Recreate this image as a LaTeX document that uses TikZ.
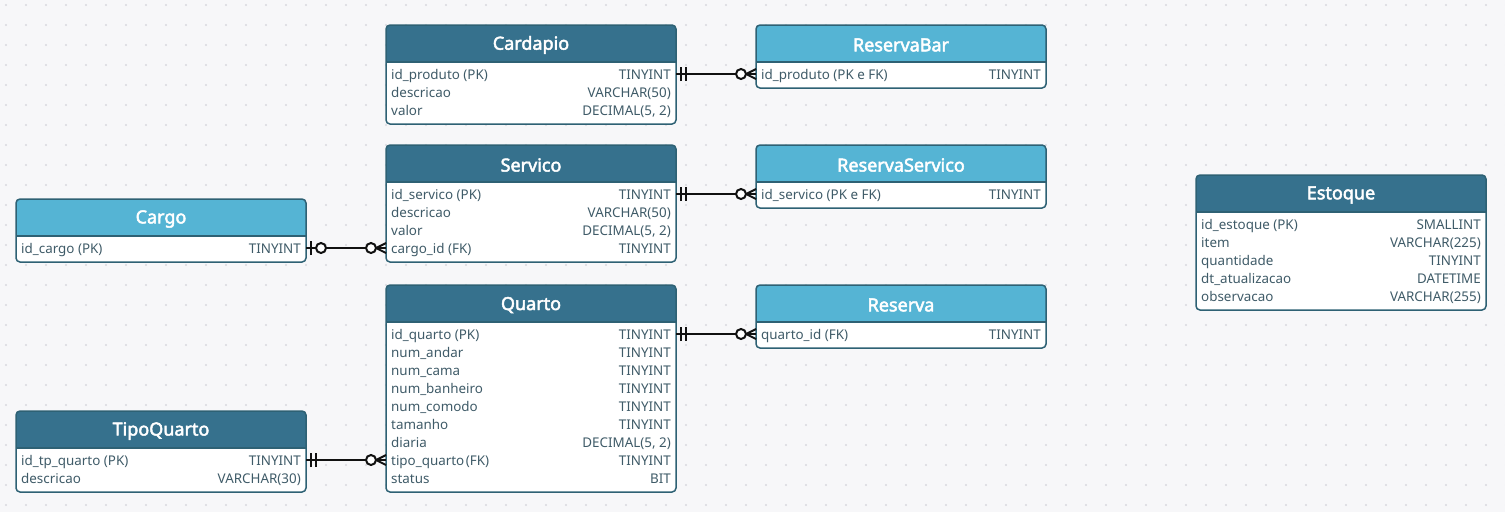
\documentclass[tikz,border=0pt]{standalone}
\usepackage{fontspec}
\setmainfont{Noto Sans}
\newfontfamily\titlefont{Noto Sans}[FakeBold=2.6]
\definecolor{bg}{HTML}{F7F7F9}
\definecolor{dotc}{HTML}{D8D8DE}
\definecolor{hdark}{HTML}{36718D}
\definecolor{hlight}{HTML}{55B4D4}
\definecolor{bord}{HTML}{2E6174}
\definecolor{rowtxt}{HTML}{3F5B68}
\definecolor{relc}{HTML}{111111}

\tikzset{
  tbltitle/.style={text=white, font=\titlefont\fontsize{18}{21}\selectfont, inner sep=0pt, anchor=center},
  lcell/.style={anchor=west, inner sep=0pt, text=rowtxt, font=\fontsize{13.4}{15}\selectfont, text height=9.5pt, text depth=2.5pt},
  rcell/.style={anchor=east, inner sep=0pt, text=rowtxt, font=\fontsize{13.4}{15}\selectfont, text height=9.5pt, text depth=2.5pt},
  frame/.style={draw=bord, line width=1.5pt, rounded corners=4pt},
  rel/.style={draw=relc, line width=2pt},
}

% table frame: name, x, y, rows, title, header colour
\newcommand\ertable[6]{%
  \pgfmathsetmacro\tblh{45+18*#4}%
  \begin{scope}
    \clip[rounded corners=4pt] (#2,#3) rectangle ++(290,\tblh);
    \fill[white] (#2,#3) rectangle ++(290,\tblh);
    \fill[#6] (#2,#3) rectangle ++(290,37);
  \end{scope}
  \draw[frame] (#2,#3) rectangle ++(290,\tblh);
  \draw[draw=bord, line width=1.5pt] (#2,#3+37) -- ++(290,0);
  \node[tbltitle] (#1) at (#2+145,#3+20) {#5};
}
% row: name, x, y, index, left text, right text
\newcommand\errow[6]{%
  \pgfmathsetmacro\rowy{#3+50.5+18*(#4-1)}%
  \node[lcell] (#1-#4l) at (#2+5,\rowy) {#5};
  \node[rcell] (#1-#4r) at (#2+285,\rowy) {#6};
  \coordinate (#1-#4w) at (#2,\rowy-1.5);
  \coordinate (#1-#4e) at (#2+290,\rowy-1.5);
}
% crow's foot with zero at the target end
\newcommand\zeromanyend[1]{%
  \draw[rel] ([xshift=-10pt]#1) -- ([yshift=5pt]#1);
  \draw[rel] ([xshift=-10pt]#1) -- ([yshift=-5pt]#1);
  \draw[rel] ([xshift=-10pt]#1) -- (#1);
  \draw[rel, fill=white] ([xshift=-15pt]#1) circle (5pt);
}
% exactly one -> zero or many
\newcommand\onemany[2]{%
  \draw[rel] (#1) to[out=0,in=180] (#2);
  \draw[rel] ([xshift=5pt,yshift=-7pt]#1) -- ([xshift=5pt,yshift=7pt]#1);
  \draw[rel] ([xshift=10pt,yshift=-7pt]#1) -- ([xshift=10pt,yshift=7pt]#1);
  \zeromanyend{#2}
}
% zero or one -> zero or many
\newcommand\zeroonemany[2]{%
  \draw[rel] (#1) to[out=0,in=180] (#2);
  \draw[rel] ([xshift=5pt,yshift=-7pt]#1) -- ([xshift=5pt,yshift=7pt]#1);
  \draw[rel, fill=white] ([xshift=15pt]#1) circle (5pt);
  \zeromanyend{#2}
}

\begin{document}
\begin{tikzpicture}[x=1pt,y=-1pt]
\useasboundingbox (0,0) rectangle (1505,512);
\fill[bg] (0,0) rectangle (1505,512);
\foreach \i in {0,...,75}{\foreach \j in {0,...,25}{\fill[dotc] (6+20*\i,5+20*\j) circle (1.1pt);}}

% Cardapio
\ertable{card}{386}{25}{3}{Cardapio}{hdark}
\errow{card}{386}{25}{1}{id\_produto (PK)}{TINYINT}
\errow{card}{386}{25}{2}{descricao}{VARCHAR(50)}
\errow{card}{386}{25}{3}{valor}{DECIMAL(5, 2)}

% ReservaBar
\ertable{rbar}{756}{25}{1}{ReservaBar}{hlight}
\errow{rbar}{756}{25}{1}{id\_produto (PK e FK)}{TINYINT}

% Servico
\ertable{serv}{386}{145}{4}{Servico}{hdark}
\errow{serv}{386}{145}{1}{id\_servico (PK)}{TINYINT}
\errow{serv}{386}{145}{2}{descricao}{VARCHAR(50)}
\errow{serv}{386}{145}{3}{valor}{DECIMAL(5, 2)}
\errow{serv}{386}{145}{4}{cargo\_id (FK)}{TINYINT}

% ReservaServico
\ertable{rserv}{756}{145}{1}{ReservaServico}{hlight}
\errow{rserv}{756}{145}{1}{id\_servico (PK e FK)}{TINYINT}

% Cargo
\ertable{cargo}{16}{199}{1}{Cargo}{hlight}
\errow{cargo}{16}{199}{1}{id\_cargo (PK)}{TINYINT}

% Quarto
\ertable{quarto}{386}{285}{9}{Quarto}{hdark}
\errow{quarto}{386}{285}{1}{id\_quarto (PK)}{TINYINT}
\errow{quarto}{386}{285}{2}{num\_andar}{TINYINT}
\errow{quarto}{386}{285}{3}{num\_cama}{TINYINT}
\errow{quarto}{386}{285}{4}{num\_banheiro}{TINYINT}
\errow{quarto}{386}{285}{5}{num\_comodo}{TINYINT}
\errow{quarto}{386}{285}{6}{tamanho}{TINYINT}
\errow{quarto}{386}{285}{7}{diaria}{DECIMAL(5, 2)}
\errow{quarto}{386}{285}{8}{tipo\_quarto\hspace{1.5pt}(FK)}{TINYINT}
\errow{quarto}{386}{285}{9}{status}{BIT}

% Reserva
\ertable{reserva}{756}{285}{1}{Reserva}{hlight}
\errow{reserva}{756}{285}{1}{quarto\_id (FK)}{TINYINT}

% TipoQuarto
\ertable{tipo}{16}{411}{2}{TipoQuarto}{hdark}
\errow{tipo}{16}{411}{1}{id\_tp\_quarto (PK)}{TINYINT}
\errow{tipo}{16}{411}{2}{descricao}{VARCHAR(30)}

% Estoque
\ertable{estoque}{1196}{175}{5}{Estoque}{hdark}
\errow{estoque}{1196}{175}{1}{id\_estoque (PK)}{SMALLINT}
\errow{estoque}{1196}{175}{2}{item}{VARCHAR(225)}
\errow{estoque}{1196}{175}{3}{quantidade}{TINYINT}
\errow{estoque}{1196}{175}{4}{dt\_atualizacao}{DATETIME}
\errow{estoque}{1196}{175}{5}{observacao}{VARCHAR(255)}

% relationships
\onemany{card-1e}{rbar-1w}
\onemany{serv-1e}{rserv-1w}
\zeroonemany{cargo-1e}{serv-4w}
\onemany{quarto-1e}{reserva-1w}
\onemany{tipo-1e}{quarto-8w}
\end{tikzpicture}
\end{document}
